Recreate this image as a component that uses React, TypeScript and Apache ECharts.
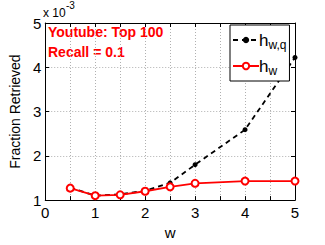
import React, { useEffect, useRef } from "react";
import * as echarts from "echarts";

const wValues = [0.5, 1, 1.5, 2, 2.5, 3, 4, 5];
const hwq = [1.28, 1.1, 1.13, 1.21, 1.39, 1.8, 2.59, 4.22];
const hw = [1.27, 1.1, 1.12, 1.2, 1.3, 1.38, 1.43, 1.43];
const titleLines = ["Youtube: Top 100", "Recall = 0.1"];

const FONT = "Liberation Sans, Arial, Helvetica, sans-serif";

export default function App() {
  const ref = useRef<HTMLDivElement>(null);
  useEffect(() => {
    const chart = echarts.init(ref.current!, null, { renderer: "svg" });
    const axisCommon = {
      type: "value" as const,
      axisLine: { show: true, onZero: false, lineStyle: { color: "#000", width: 1 } },
      axisTick: { show: true, inside: true, length: 4, lineStyle: { color: "#000" } },
    };
    const grid = { show: true, lineStyle: { color: "#b0b0b0", type: [1, 2], width: 1 } };
    chart.setOption({
      animation: false,
      backgroundColor: "#fff",
      grid: { left: 42, right: 30, top: 23, bottom: 35, containLabel: false },
      xAxis: [
        {
          ...axisCommon,
          min: 0,
          max: 5,
          interval: 0.5,
          name: "w",
          nameLocation: "middle",
          nameGap: 17,
          nameTextStyle: { fontFamily: FONT, fontSize: 15, color: "#000" },
          axisLabel: {
            fontFamily: FONT,
            fontSize: 15,
            color: "#000",
            margin: 5,
            formatter: (v: number) => (Number.isInteger(v) ? String(v) : ""),
          },
          splitLine: grid,
        },
        {
          ...axisCommon,
          position: "top",
          min: 0,
          max: 5,
          interval: 0.5,
          axisLabel: { show: false },
          splitLine: { show: false },
        },
      ],
      yAxis: [
        {
          ...axisCommon,
          min: 1,
          max: 5,
          interval: 1,
          name: "Fraction Retrieved",
          nameLocation: "middle",
          nameGap: 21,
          nameTextStyle: { fontFamily: FONT, fontSize: 14, color: "#000" },
          axisLabel: { fontFamily: FONT, fontSize: 15, color: "#000", margin: 4 },
          splitLine: grid,
        },
        {
          ...axisCommon,
          position: "right",
          min: 1,
          max: 5,
          interval: 1,
          axisLabel: { show: false },
          splitLine: { show: false },
        },
      ],
      legend: {
        show: true,
        orient: "vertical",
        left: 230,
        top: 25,
        padding: [4, 3, 4, 2],
        itemGap: 4,
        itemWidth: 26,
        itemHeight: 8,
        backgroundColor: "#fff",
        borderColor: "#000",
        borderWidth: 1,
        borderRadius: 0,
        data: ["hwq", "hw"],
        formatter: (name: string) => (name === "hwq" ? "{a|h}{b|w,q}" : "{a|h}{b|w}"),
        textStyle: {
          padding: [0, 0, 0, -5],
          rich: {
            a: { fontFamily: FONT, fontSize: 17, color: "#000", lineHeight: 22 },
            b: { fontFamily: FONT, fontSize: 12, color: "#000", padding: [10, 0, 0, 0], lineHeight: 22 },
          },
        },
      },
      graphic: [
        {
          type: "text",
          left: 43,
          top: 7,
          style: { text: "x 10", fontFamily: FONT, fontSize: 12, fill: "#000" },
        },
        {
          type: "text",
          left: 66,
          top: 0,
          style: { text: "-3", fontFamily: FONT, fontSize: 10, fill: "#000" },
        },
        {
          type: "text",
          left: 48,
          top: 25,
          style: { text: titleLines[0], fontFamily: FONT, fontSize: 14, fontWeight: "bold", fill: "#ff0000" },
        },
        {
          type: "text",
          left: 48,
          top: 45,
          style: { text: titleLines[1], fontFamily: FONT, fontSize: 14, fontWeight: "bold", fill: "#ff0000" },
        },
      ],
      series: [
        {
          name: "hwq",
          type: "line",
          data: wValues.map((w, i) => [w, hwq[i]]),
          symbol: "circle",
          symbolSize: 5,
          itemStyle: { color: "#000" },
          lineStyle: { color: "#000", width: 1.8, type: [5, 4] },
          z: 2,
        },
        {
          name: "hw",
          type: "line",
          data: wValues.map((w, i) => [w, hw[i]]),
          symbol: "emptyCircle",
          symbolSize: 7,
          itemStyle: { color: "#ff0000", borderWidth: 1.5 },
          lineStyle: { color: "#ff0000", width: 1.8 },
          z: 3,
        },
      ],
    });
    return () => chart.dispose();
  }, []);
  return <div ref={ref} style={{ width: 325, height: 245, position: "fixed", left: 0, top: 0 }} />;
}
